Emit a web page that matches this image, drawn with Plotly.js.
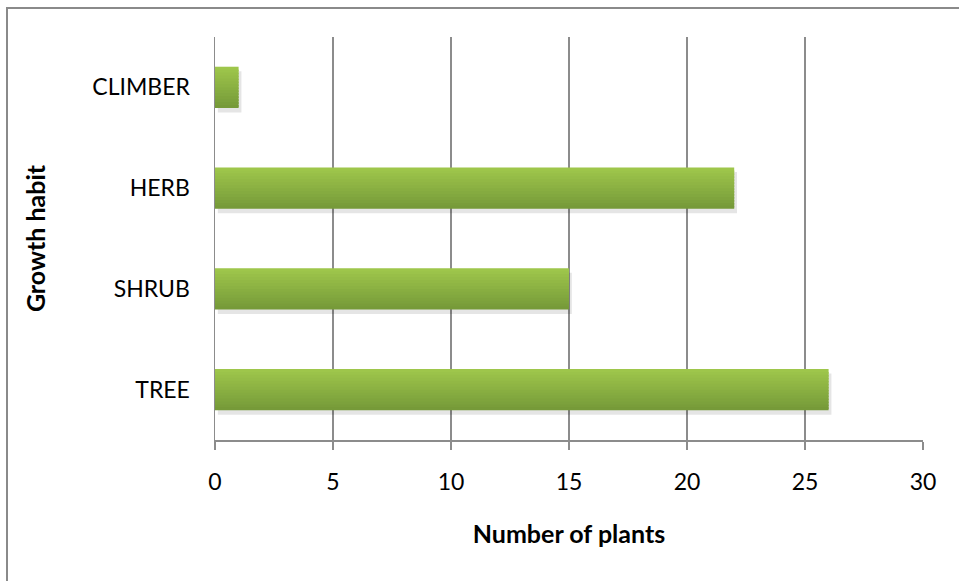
<!DOCTYPE html>
<html>
<head>
<meta charset="utf-8">
<script src="https://cdn.plot.ly/plotly-3.0.1.min.js"></script>
<style>
  html, body { margin: 0; padding: 0; background: #fff; }
  #wrap { position: relative; width: 959px; height: 581px; overflow: hidden; }
  #chart { position: absolute; left: 0; top: 0; width: 959px; height: 581px; }
  #frame { position: absolute; left: 6px; top: 7px; width: 1000px; height: 1000px;
           border-left: 2px solid #8a8a8a; border-top: 2px solid #8a8a8a; pointer-events: none; }
</style>
</head>
<body>
<div id="wrap">
  <div id="chart"></div>
  <div id="frame"></div>
</div>
<script>
const categories = ['TREE', 'SHRUB', 'HERB', 'CLIMBER'];
const plantCounts = [26, 15, 22, 1];
const xTickValues = [0, 5, 10, 15, 20, 25, 30];

const barWidth = 0.41;
const nStrips = 14;
const topColor = [158, 198, 75];
const bottomColor = [118, 154, 57];

function mix(a, b, t) {
  const c = a.map((v, i) => Math.round(v + (b[i] - v) * t));
  return 'rgb(' + c.join(',') + ')';
}

const traces = [];
// soft shadow
traces.push({
  type: 'bar', orientation: 'h', y: categories, x: plantCounts,
  base: 0.12, width: barWidth, offset: -barWidth / 2 - 0.045,
  marker: { color: 'rgba(0,0,0,0.10)', line: { width: 0 } },
  hoverinfo: 'skip', showlegend: false
});
const stripW = barWidth / nStrips;
const barTop = barWidth / 2;
for (let i = 0; i < nStrips; i++) {
  // i = 0 is top strip; each strip extends a little downward into the next one's slot
  const t = nStrips === 1 ? 0 : i / (nStrips - 1);
  const last = i === nStrips - 1;
  const ext = last ? 0 : stripW * 0.6;
  traces.push({
    type: 'bar', orientation: 'h', y: categories, x: plantCounts,
    width: stripW + ext,
    offset: barTop - (i + 1) * stripW - ext,
    marker: { color: mix(topColor, bottomColor, t), line: { width: 0 } },
    showlegend: false, hoverinfo: i === 0 ? 'x+y' : 'skip'
  });
}

const layout = {
  width: 959, height: 581,
  margin: { l: 215, r: 36, t: 37, b: 141 },
  paper_bgcolor: '#ffffff', plot_bgcolor: '#ffffff',
  barmode: 'overlay',
  showlegend: false,
  font: { family: 'Lato, "Open Sans", sans-serif', color: '#000', size: 23 },
  xaxis: {
    range: [0, 30], tickvals: xTickValues, ticktext: xTickValues.map(String),
    showgrid: true, gridcolor: '#8c8c8c', gridwidth: 1.5,
    zeroline: false, showline: true, linecolor: '#8c8c8c', linewidth: 1.5,
    ticks: 'outside', ticklen: 8, tickcolor: '#8c8c8c', tickwidth: 1.5,
    ticklabelstandoff: 13,
    tickfont: { size: 23 },
    title: { text: 'Number of plants', font: { size: 25, weight: 'bold' }, standoff: 31 },
    fixedrange: true
  },
  yaxis: {
    type: 'category', categoryorder: 'array', categoryarray: categories,
    range: [-0.5, 3.5],
    showgrid: false, zeroline: false, showline: true, linecolor: '#8c8c8c', linewidth: 1.5,
    ticks: '', ticklabelstandoff: 19,
    tickfont: { size: 23 },
    title: { text: 'Growth habit', font: { size: 25, weight: 'bold' }, standoff: 39 },
    fixedrange: true
  }
};

Plotly.newPlot('chart', traces, layout, { displayModeBar: false, staticPlot: true });
</script>
</body>
</html>
